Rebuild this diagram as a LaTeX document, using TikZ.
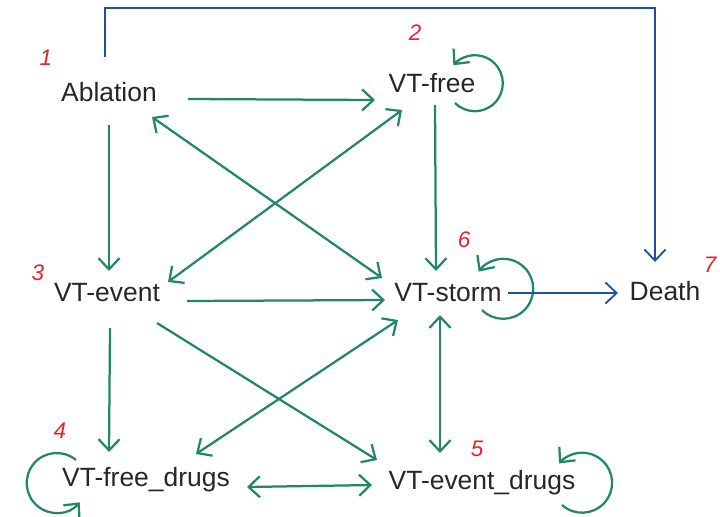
\documentclass[tikz,border=0pt]{standalone}
\usepackage{fontspec}
\setmainfont{Liberation Sans}
\usetikzlibrary{arrows.meta,calc}
\definecolor{trgreen}{RGB}{35,135,100}
\definecolor{trblue}{RGB}{30,80,160}
\definecolor{numred}{RGB}{230,35,40}

\begin{document}
\begin{tikzpicture}[x=0.025cm,y=-0.025cm,
		>={Straight Barb[length=8pt,width=15pt]},
		tr/.style={trgreen,line width=1.6pt},
		dth/.style={trblue,line width=1.3pt},
		num/.style={numred,font=\fontsize{16}{16}\selectfont\itshape}]
		\useasboundingbox (0,0) rectangle (720,516);
		\begin{scope}[every node/.append style={font=\fontsize{18.8}{20}\selectfont, text=black!85, inner sep=0pt}]
			\node (1) at (109,92) {Ablation};
			\node (2) at (432,83) {VT-free};
			\node (3) at (107,293) {VT-event};
			\node (4) at (146,480) {VT-free\_drugs};
			\node (5) at (482,483) {VT-event\_drugs};
			\node (6) at (448,293) {VT-storm};
			\node (7) at (665,291) {Death};
		\end{scope}

		% state numbers
		\node[num] (n1) at (46,58) {1};
		\node[num] (n2) at (415,33) {2};
		\node[num] (n3) at (38,273) {3};
		\node[num] (n4) at (60,431) {4};
		\node[num] (n5) at (477,449) {5};
		\node[num] (n6) at (464,240) {6};
		\node[num] (n7) at (710,265) {7};

		% transitions
		\draw[tr,->] ($(1)+(79,7)$) -- ($(2)+(-57,17)$);
		\draw[tr,->] ($(1)+(0,33)$) -- ($(3)+(2,-22)$);
		\draw[tr,<->] ($(1)+(43,25)$) -- ($(6)+(-66,-15)$);
		\draw[tr,<->] ($(3)+(61,-11)$) -- ($(2)+(-30,27)$);
		\draw[tr,->] ($(2)+(3,22)$) -- ($(6)+(-12,-22)$);
		\draw[tr,->] ($(3)+(80,8)$) -- ($(6)+(-63,7)$);
		\draw[tr,->] ($(3)+(3,35)$) -- ($(4)+(-37,-28)$);
		\draw[tr,->] ($(3)+(50,30)$) -- ($(5)+(-105,-23)$);
		\draw[tr,<->] ($(6)+(-50,27)$) -- ($(4)+(50,-26)$);
		\draw[tr,<->] ($(6)+(-8,22)$) -- ($(5)+(-42,-30)$);
		\draw[tr,<->] ($(4)+(101,7)$) -- ($(5)+(-110,2)$);

		% staying
		\draw[tr,->] ($(2)+(23,20)$) arc[start angle=135, end angle=-140, radius=28];
		\draw[tr,->] ($(6)+(34,17)$) arc[start angle=135, end angle=-145, radius=30];
		\draw[tr,->] ($(5)+(80,22)$) arc[start angle=132, end angle=-140, radius=30];
		\draw[tr,->] ($(4)+(-70,-20)$) arc[start angle=-50, end angle=-320, radius=30];

		% death
		\draw[dth,->] ($(6)+(60,0)$) -- ($(7)+(-47,2)$);
		\draw[dth,->] ($(1)+(-4,-35)$) -- ++(0,-49) -| ($(7)+(-10,-29)$);
	\end{tikzpicture}
\end{document}
